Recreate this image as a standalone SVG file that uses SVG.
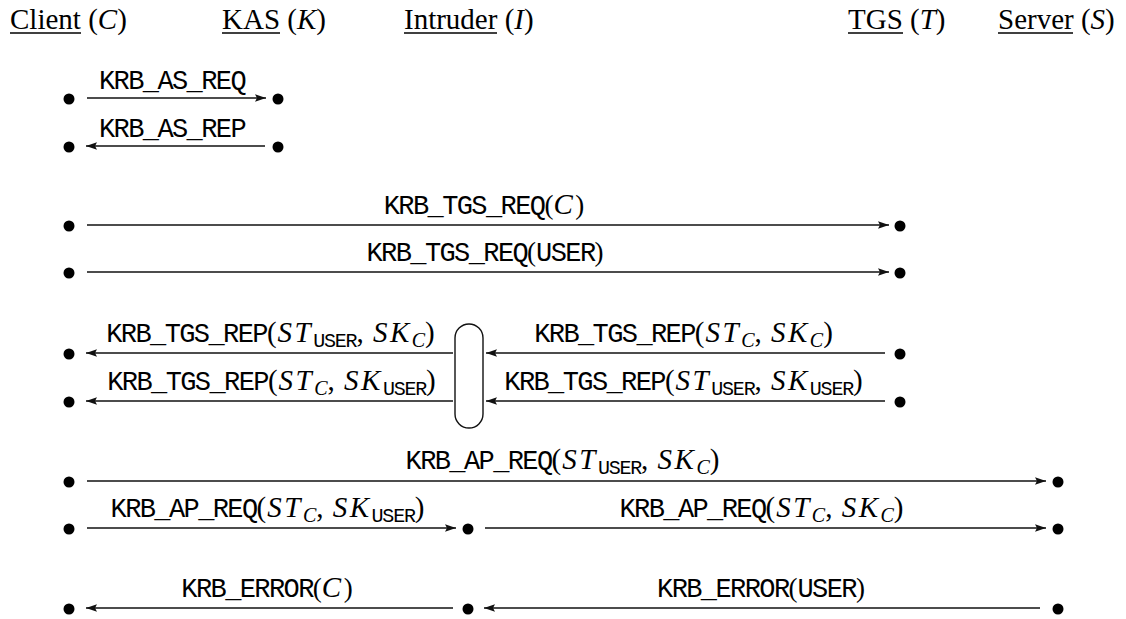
<svg xmlns="http://www.w3.org/2000/svg" width="1126" height="619" viewBox="0 0 1126 619">
<style>
.hd{font-family:"Liberation Serif",serif;font-size:29px;fill:#000}
.ul{stroke:#000;stroke-width:1.3}
.lab{font-family:"Liberation Serif",serif;font-size:27px;fill:#000}
.tt{font-family:"Liberation Mono",monospace;font-size:27px;letter-spacing:-1.6px}
.mi{font-style:italic;font-size:29px;letter-spacing:2.5px}
.mr{font-size:29px;letter-spacing:1px}
.sbt{font-family:"Liberation Mono",monospace;font-size:20px;letter-spacing:-1.2px}
.sbi{font-style:italic;font-size:20px}
.ln{stroke:#111;stroke-width:1.4;fill:none}
.dot{fill:#000}
</style>
<defs>
<marker id="ah" markerUnits="userSpaceOnUse" markerWidth="12" markerHeight="10" viewBox="0 0 12 10" refX="11" refY="5" orient="auto">
<path d="M0,1.3 L11,5 L0,8.7 L2,5 Z" fill="#111"/>
</marker>
</defs>

<g id="headers">
<g id="h-client"><text class="hd" x="10" y="29">Client <tspan>(</tspan><tspan font-style="italic">C</tspan><tspan>)</tspan></text><line class="ul" x1="10" y1="33" x2="81" y2="33"/></g>
<g id="h-kas"><text class="hd" x="222" y="29">KAS <tspan>(</tspan><tspan font-style="italic">K</tspan><tspan>)</tspan></text><line class="ul" x1="222" y1="33" x2="280" y2="33"/></g>
<g id="h-intruder"><text class="hd" x="404" y="29">Intruder <tspan>(</tspan><tspan font-style="italic">I</tspan><tspan>)</tspan></text><line class="ul" x1="404" y1="33" x2="497" y2="33"/></g>
<g id="h-tgs"><text class="hd" x="848" y="29">TGS <tspan>(</tspan><tspan font-style="italic">T</tspan><tspan>)</tspan></text><line class="ul" x1="848" y1="33" x2="903" y2="33"/></g>
<g id="h-server"><text class="hd" x="998" y="29">Server <tspan>(</tspan><tspan font-style="italic">S</tspan><tspan>)</tspan></text><line class="ul" x1="998" y1="33" x2="1073" y2="33"/></g>
</g>

<g id="nodes">
<circle id="c1" class="dot" cx="69" cy="99" r="5.5"/><circle id="k1" class="dot" cx="278" cy="99" r="5.5"/>
<circle id="c2" class="dot" cx="69" cy="147" r="5.5"/><circle id="k2" class="dot" cx="278" cy="147" r="5.5"/>
<circle id="c3" class="dot" cx="69" cy="226" r="5.5"/><circle id="t3" class="dot" cx="900" cy="226" r="5.5"/>
<circle id="c4" class="dot" cx="69" cy="273" r="5.5"/><circle id="t4" class="dot" cx="900" cy="273" r="5.5"/>
<circle id="c5" class="dot" cx="69" cy="354" r="5.5"/><circle id="t5" class="dot" cx="900" cy="354" r="5.5"/>
<circle id="c6" class="dot" cx="69" cy="402" r="5.5"/><circle id="t6" class="dot" cx="900" cy="402" r="5.5"/>
<circle id="c7" class="dot" cx="69" cy="482" r="5.5"/><circle id="s7" class="dot" cx="1058" cy="482" r="5.5"/>
<circle id="c8" class="dot" cx="69" cy="529" r="5.5"/><circle id="i8" class="dot" cx="468" cy="529" r="5.5"/><circle id="s8" class="dot" cx="1058" cy="529" r="5.5"/>
<circle id="c9" class="dot" cx="69" cy="609" r="5.5"/><circle id="i9" class="dot" cx="468" cy="609" r="5.5"/><circle id="s9" class="dot" cx="1058" cy="609" r="5.5"/>
</g>

<g id="intruder-box">
<rect class="ln" x="455" y="324" width="28" height="104" rx="14" ry="14"/>
</g>

<g id="connectors">
<line class="ln" x1="87" y1="98" x2="266" y2="98" marker-end="url(#ah)"/>
<line class="ln" x1="265" y1="146" x2="86" y2="146" marker-end="url(#ah)"/>
<line class="ln" x1="87" y1="225" x2="889" y2="225" marker-end="url(#ah)"/>
<line class="ln" x1="87" y1="272" x2="889" y2="272" marker-end="url(#ah)"/>
<line class="ln" x1="453" y1="353" x2="86" y2="353" marker-end="url(#ah)"/>
<line class="ln" x1="453" y1="401" x2="86" y2="401" marker-end="url(#ah)"/>
<line class="ln" x1="885" y1="353" x2="486" y2="353" marker-end="url(#ah)"/>
<line class="ln" x1="885" y1="401" x2="486" y2="401" marker-end="url(#ah)"/>
<line class="ln" x1="87" y1="481" x2="1046" y2="481" marker-end="url(#ah)"/>
<line class="ln" x1="87" y1="528" x2="456" y2="528" marker-end="url(#ah)"/>
<line class="ln" x1="485" y1="528" x2="1046" y2="528" marker-end="url(#ah)"/>
<line class="ln" x1="453" y1="608" x2="86" y2="608" marker-end="url(#ah)"/>
<line class="ln" x1="1040" y1="608" x2="484" y2="608" marker-end="url(#ah)"/>
</g>

<g id="labels">
<text class="lab" x="172" y="89" text-anchor="middle"><tspan class="tt">KRB_AS_REQ</tspan></text>
<text class="lab" x="172" y="137" text-anchor="middle"><tspan class="tt">KRB_AS_REP</tspan></text>
<text class="lab" x="484" y="214" text-anchor="middle"><tspan class="tt">KRB_TGS_REQ</tspan>(<tspan class="mi">C</tspan>)</text>
<text class="lab" x="485" y="261" text-anchor="middle"><tspan class="tt">KRB_TGS_REQ</tspan>(<tspan class="tt">USER</tspan>)</text>
<text class="lab" x="271" y="342" text-anchor="middle"><tspan class="tt">KRB_TGS_REP</tspan><tspan class="mr">(</tspan><tspan class="mi">ST</tspan><tspan class="sbt" dy="5">USER</tspan><tspan class="mr" dy="-5">, </tspan><tspan class="mi">SK</tspan><tspan class="sbi" dy="5">C</tspan><tspan class="mr" dy="-5">)</tspan></text>
<text class="lab" x="272" y="390" text-anchor="middle"><tspan class="tt">KRB_TGS_REP</tspan><tspan class="mr">(</tspan><tspan class="mi">ST</tspan><tspan class="sbi" dy="5">C</tspan><tspan class="mr" dy="-5">, </tspan><tspan class="mi">SK</tspan><tspan class="sbt" dy="5">USER</tspan><tspan class="mr" dy="-5">)</tspan></text>
<text class="lab" x="684" y="342" text-anchor="middle"><tspan class="tt">KRB_TGS_REP</tspan><tspan class="mr">(</tspan><tspan class="mi">ST</tspan><tspan class="sbi" dy="5">C</tspan><tspan class="mr" dy="-5">, </tspan><tspan class="mi">SK</tspan><tspan class="sbi" dy="5">C</tspan><tspan class="mr" dy="-5">)</tspan></text>
<text class="lab" x="684" y="390" text-anchor="middle"><tspan class="tt">KRB_TGS_REP</tspan><tspan class="mr">(</tspan><tspan class="mi">ST</tspan><tspan class="sbt" dy="5">USER</tspan><tspan class="mr" dy="-5">, </tspan><tspan class="mi">SK</tspan><tspan class="sbt" dy="5">USER</tspan><tspan class="mr" dy="-5">)</tspan></text>
<text class="lab" x="563" y="469" text-anchor="middle"><tspan class="tt">KRB_AP_REQ</tspan><tspan class="mr">(</tspan><tspan class="mi">ST</tspan><tspan class="sbt" dy="5">USER</tspan><tspan class="mr" dy="-5">, </tspan><tspan class="mi">SK</tspan><tspan class="sbi" dy="5">C</tspan><tspan class="mr" dy="-5">)</tspan></text>
<text class="lab" x="268" y="517" text-anchor="middle"><tspan class="tt">KRB_AP_REQ</tspan><tspan class="mr">(</tspan><tspan class="mi">ST</tspan><tspan class="sbi" dy="5">C</tspan><tspan class="mr" dy="-5">, </tspan><tspan class="mi">SK</tspan><tspan class="sbt" dy="5">USER</tspan><tspan class="mr" dy="-5">)</tspan></text>
<text class="lab" x="762" y="517" text-anchor="middle"><tspan class="tt">KRB_AP_REQ</tspan><tspan class="mr">(</tspan><tspan class="mi">ST</tspan><tspan class="sbi" dy="5">C</tspan><tspan class="mr" dy="-5">, </tspan><tspan class="mi">SK</tspan><tspan class="sbi" dy="5">C</tspan><tspan class="mr" dy="-5">)</tspan></text>
<text class="lab" x="267" y="597" text-anchor="middle"><tspan class="tt">KRB_ERROR</tspan>(<tspan class="mi">C</tspan>)</text>
<text class="lab" x="761" y="597" text-anchor="middle"><tspan class="tt">KRB_ERROR</tspan>(<tspan class="tt">USER</tspan>)</text>
</g>
</svg>
